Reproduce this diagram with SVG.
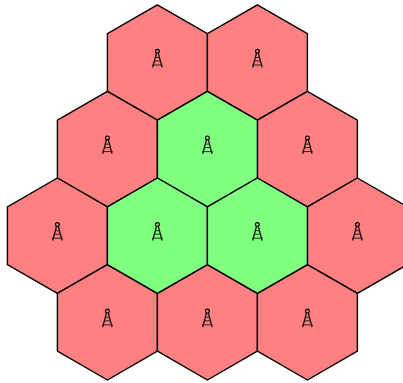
<svg xmlns="http://www.w3.org/2000/svg" width="403" height="383" viewBox="0 0 403 383">
<style>
.hex{stroke:#000;stroke-width:1.4;stroke-linejoin:miter}
.red{fill:#ff8080}
.green{fill:#80ff80}
.tower{fill:none;stroke:#000;stroke-width:1.2}
.bar{stroke-width:.8}
</style>
<defs>
<polygon id="h" points="-0.1,-57.7 49.9,-28.9 49.9,28.9 -0.1,57.7 -50.1,28.9 -50.1,-28.9"/>
<g id="t" class="tower">
<circle cx="-0.1" cy="-11.2" r="1.9"/>
<path d="M-1,-9.4 L-4.8,4.8 M0.8,-9.4 L4.6,4.8"/>
<path class="bar" d="M-2.2,-5 H2 M-3.2,-1.5 H3 M-5.4,2.5 H5.2"/>
</g>
</defs>
<rect width="403" height="383" fill="#fff"/>
<g id="cell-1"><use href="#h" class="hex red" x="157.5" y="62.5"/><use href="#t" x="157.5" y="62.5"/></g>
<g id="cell-2"><use href="#h" class="hex red" x="257.5" y="62.5"/><use href="#t" x="257.5" y="62.5"/></g>
<g id="cell-3"><use href="#h" class="hex red" x="107.5" y="149.1"/><use href="#t" x="107.5" y="149.1"/></g>
<g id="cell-5"><use href="#h" class="hex red" x="307.5" y="149.1"/><use href="#t" x="307.5" y="149.1"/></g>
<g id="cell-6"><use href="#h" class="hex red" x="57.5" y="235.7"/><use href="#t" x="57.5" y="235.7"/></g>
<g id="cell-9"><use href="#h" class="hex red" x="357.5" y="235.7"/><use href="#t" x="357.5" y="235.7"/></g>
<g id="cell-10"><use href="#h" class="hex red" x="107.5" y="322.3"/><use href="#t" x="107.5" y="322.3"/></g>
<g id="cell-11"><use href="#h" class="hex red" x="207.5" y="322.3"/><use href="#t" x="207.5" y="322.3"/></g>
<g id="cell-12"><use href="#h" class="hex red" x="307.5" y="322.3"/><use href="#t" x="307.5" y="322.3"/></g>
<g id="cell-4"><use href="#h" class="hex green" x="207.5" y="149.1"/><use href="#t" x="207.5" y="149.1"/></g>
<g id="cell-7"><use href="#h" class="hex green" x="157.5" y="235.7"/><use href="#t" x="157.5" y="235.7"/></g>
<g id="cell-8"><use href="#h" class="hex green" x="257.5" y="235.7"/><use href="#t" x="257.5" y="235.7"/></g>
</svg>
